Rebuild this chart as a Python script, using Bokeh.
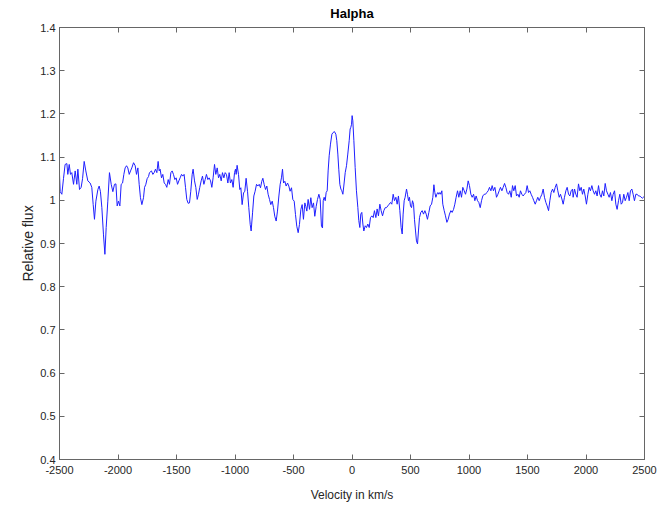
from bokeh.plotting import figure
from bokeh.models import Range1d, LinearAxis, FixedTicker, CustomJSTickFormatter
from bokeh.embed import file_html
from bokeh.resources import INLINE

# ---- data ----
velocity = [
    -2500, -2494, -2480, -2466, -2452, -2437, -2429, -2417, -2406, -2395, -2380, -2366, -2352, -2343,
    -2329, -2315, -2303, -2289, -2275, -2258, -2238, -2224, -2212, -2201, -2189, -2172, -2161, -2150,
    -2138, -2124, -2112, -2101, -2087, -2073, -2058, -2044, -2030, -2018, -2007, -1996, -1984, -1973,
    -1961, -1950, -1939, -1927, -1916, -1904, -1893, -1882, -1867, -1853, -1842, -1830, -1819, -1808,
    -1796, -1782, -1773, -1762, -1751, -1739,
    -1731, -1714, -1702, -1691, -1680, -1668, -1657, -1648, -1640, -1628, -1617, -1605, -1594, -1583,
    -1571, -1560, -1548, -1537, -1526, -1514, -1503, -1491, -1480, -1469, -1457, -1446, -1435, -1423,
    -1412, -1400, -1389, -1378, -1366, -1358, -1346, -1335, -1323, -1312, -1301, -1289, -1278, -1266,
    -1255, -1244, -1232, -1221, -1209, -1198, -1187, -1175, -1164, -1152, -1141, -1130, -1118, -1107,
    -1095, -1084, -1073, -1061, -1050, -1039, -1027, -1016, -1004,
    -996, -990, -982, -970, -959, -950, -939, -927, -916, -905, -893, -882, -870, -862, -850, -839,
    -828, -816, -805, -793, -782, -771, -762, -751, -739, -728, -717, -705, -694, -682, -671, -660,
    -648, -637, -625, -614, -603, -594, -585, -574, -563, -551, -540, -529, -517, -506, -494, -483,
    -472, -460, -449, -437, -426, -415, -403, -395, -386, -375, -363, -352, -341, -329, -318, -306,
    -295, -283, -272, -261, -252,
    -246, -238, -229, -221, -212, -204, -195, -184, -172, -161, -150, -138, -130, -121, -113, -104,
    -95, -87, -78, -70, -58, -47, -36, -24, -16, -10, -4, 1, 7, 16, 27, 38, 50, 58, 67, 75, 84, 93,
    101, 113, 124, 135, 147, 158, 170, 181, 192, 204, 215, 226, 238, 249, 261, 272, 284, 295, 306,
    318, 329, 340, 352, 363, 375, 386, 397, 409, 420, 429, 437, 446, 454, 466,
    474, 483, 491, 500, 509, 517, 526, 534, 543, 551, 560, 568, 577, 588, 600, 611, 623, 634, 645,
    657, 668, 680, 691, 700, 708, 717, 725, 734, 742, 751, 759, 768, 776, 788, 799, 811, 822, 833,
    845, 856, 868, 879, 890, 902, 913, 925, 936, 947, 959, 970, 982, 993, 1004, 1016, 1027, 1039,
    1050, 1061, 1073, 1084, 1096, 1107, 1118, 1130, 1141, 1152, 1164, 1175, 1187, 1198, 1209, 1221,
    1224, 1235, 1247, 1258, 1269, 1281, 1292, 1304, 1315, 1326, 1338, 1349, 1361, 1372, 1383, 1395,
    1406, 1418, 1429, 1440, 1452, 1463, 1474, 1486, 1497, 1509, 1520, 1531, 1543, 1554, 1566, 1577,
    1588, 1600, 1611, 1623, 1634, 1645, 1657, 1668, 1680, 1691, 1702, 1714, 1725, 1737, 1748, 1759,
    1771, 1782, 1794, 1805, 1816, 1828, 1839, 1851, 1862, 1873, 1885,
    1890, 1902, 1913, 1924, 1936, 1947, 1959, 1970, 1981, 1993, 2004, 2016, 2027, 2038, 2050, 2061,
    2073, 2084, 2095, 2107, 2118, 2130, 2141, 2152, 2164, 2175, 2187, 2198, 2209, 2221, 2232, 2244,
    2255, 2266, 2278, 2289, 2301, 2312, 2323, 2335, 2346, 2358, 2369, 2380, 2392, 2403, 2414, 2426,
    2437, 2449, 2460, 2471, 2483, 2494, 2500,
]

flux = [
    1.06, 1.02, 1.014, 1.05, 1.083, 1.085, 1.06, 1.083, 1.06, 1.064, 1.037, 1.068, 1.037, 1.072,
    1.025, 1.03, 1.05, 1.09, 1.068, 1.045, 1.04, 1.03, 0.99, 0.956, 0.998, 1.025, 1.033, 1.02,
    0.983, 0.92, 0.875, 0.937, 0.998, 1.064, 1.037, 1.02, 1.037, 1.038, 0.987, 0.998, 0.987, 1.037,
    1.04, 1.06, 1.075, 1.08, 1.075, 1.06, 1.068, 1.075, 1.087, 1.08, 1.06, 1.075, 1.037, 1.006,
    0.99, 1.006, 1.03, 1.037, 1.05, 1.055,
    1.064, 1.068, 1.06, 1.064, 1.072, 1.064, 1.09, 1.068, 1.072, 1.052, 1.06, 1.04, 1.037, 1.03,
    1.048, 1.037, 1.064, 1.068, 1.06, 1.048, 1.052, 1.037, 1.045, 1.052, 1.06, 1.056, 1.06, 1.03,
    1.002, 0.993, 0.994, 1.021, 1.06, 1.072, 1.045, 1.03, 1.002, 1.014, 1.03, 1.045, 1.056, 1.037,
    1.048, 1.06, 1.048, 1.052, 1.045, 1.03, 1.052, 1.083, 1.06, 1.075, 1.052, 1.06, 1.045, 1.064,
    1.052, 1.064, 1.06, 1.04, 1.064, 1.04, 1.048, 1.03, 1.064,
    1.072, 1.06, 1.081, 1.06, 1.025, 1.029, 0.99, 1.017, 1.021, 1.051, 1.021, 0.983, 0.944, 0.929,
    0.971, 1.01, 1.021, 1.037, 1.033, 1.037, 1.029, 1.044, 1.051, 1.037, 1.025, 1.033, 1.014, 1.002,
    0.99, 0.998, 0.983, 0.963, 0.952, 0.975, 1.01, 1.037, 1.052, 1.072, 1.04, 1.044, 1.033, 1.04,
    1.033, 1.021, 1.029, 1.002, 0.998, 0.967, 0.94, 0.925, 0.944, 0.979, 0.99, 0.956, 0.994, 0.986,
    0.975, 1.002, 0.979, 1.006, 0.983, 0.994, 0.963, 0.986, 1.002, 1.014, 1.002, 0.94, 0.936,
    0.999, 1.007, 0.999, 1.018, 1.022, 1.068, 1.103, 1.130, 1.153, 1.157, 1.159, 1.153, 1.138, 1.107,
    1.072, 1.037, 1.026, 1.022, 1.014, 1.033, 1.064, 1.08, 1.107, 1.138, 1.165, 1.169, 1.176, 1.196,
    1.184, 1.138, 1.076, 1.022, 0.983, 0.953, 0.937, 0.968, 0.972, 0.945, 0.929, 0.941, 0.937, 0.945,
    0.937, 0.960, 0.964, 0.960, 0.976, 0.960, 0.980, 0.964, 0.991, 0.976, 0.964, 0.976, 0.983, 0.983,
    0.987, 0.991, 0.995, 0.991, 1.014, 0.999, 1.007, 0.991, 1.010, 0.976, 0.937, 0.922, 0.968, 0.999,
    1.007, 1.026,
    1.014, 0.999, 1.007, 0.987, 0.983, 0.999, 0.991, 0.956, 0.929, 0.906, 0.899, 0.929, 0.96, 0.972,
    0.976, 0.968, 0.976, 0.968, 0.956, 0.972, 0.987, 0.991, 1.007, 1.036, 1.018, 1.007, 1.014, 1.018,
    1.014, 1.018, 1.014, 1.022, 0.991, 0.976, 0.964, 0.949, 0.956, 0.968, 0.976, 0.972, 0.979, 0.991,
    1.007, 1.022, 1.007, 1.022, 1.007, 1.03, 1.022, 1.014, 1.026, 1.045, 1.034, 1.014, 1.007, 1.014,
    0.999, 1.010, 0.999, 0.995, 0.983, 0.999, 1.010, 1.014, 1.014, 1.018, 1.022, 1.03, 1.022, 1.034,
    1.022, 1.03,
    1.026, 1.007, 1.014, 1.022, 1.03, 1.022, 1.03, 1.039, 1.03, 1.018, 1.014, 1.022, 1.007, 1.034,
    1.022, 1.034, 1.010, 1.014, 1.007, 1.022, 1.014, 1.010, 1.014, 1.018, 1.034, 1.018, 1.022, 1.014,
    1.007, 0.999, 0.991, 0.999, 1.007, 0.999, 1.007, 1.014, 1.026, 1.007, 0.995, 0.987, 0.976, 0.999,
    1.018, 1.026, 1.018, 1.03, 1.038, 1.022, 1.007, 1.014, 1.003, 0.991, 1.007, 1.022, 1.03, 1.014,
    1.010, 1.022, 1.026,
    1.007, 1.026, 1.014, 1.007, 1.038, 1.022, 1.03, 1.014, 1.026, 1.010, 0.991, 1.014, 1.03, 1.022,
    1.034, 1.022, 1.014, 1.022, 1.010, 1.034, 1.014, 1.007, 1.022, 1.010, 1.039, 1.022, 1.014, 1.007,
    1.018, 0.999, 1.014, 1.022, 0.991, 0.979, 0.999, 1.014, 0.991, 0.995, 1.014, 0.999, 1.007, 1.018,
    0.999, 1.022, 1.026, 1.014, 0.999, 1.014, 1.014, 1.010, 1.010, 1.007, 1.005, 1.008, 1.006,
]

x_ticks = [-2500, -2000, -1500, -1000, -500, 0, 500, 1000, 1500, 2000, 2500]
y_ticks = [0.4, 0.5, 0.6, 0.7, 0.8, 0.9, 1.0, 1.1, 1.2, 1.3, 1.4]
title_text = "Halpha"
x_label = "Velocity in km/s"
y_label = "Relative flux"

FONT = "Liberation Sans"
AXIS_COLOR = "#666666"
TEXT_COLOR = "#262626"

p = figure(
    width=668, height=510,
    output_backend="svg", toolbar_location=None,
    x_range=Range1d(-2500, 2500), y_range=Range1d(0.4, 1.4),
    min_border_left=59, min_border_right=24, min_border_top=27, min_border_bottom=51,
    title=title_text,
)
p.title.align = "center"
p.title.vertical_align = "top"
p.title.text_font = FONT
p.title.text_font_size = "13px"
p.title.text_font_style = "bold"
p.title.text_color = "#000000"
p.title.standoff = 10

p.background_fill_color = "white"
p.border_fill_color = "white"
p.outline_line_color = AXIS_COLOR
p.xgrid.visible = False
p.ygrid.visible = False

p.line(velocity, flux, line_color="#1f1fff", line_width=1)

p.add_layout(LinearAxis(), "above")
p.add_layout(LinearAxis(), "right")

fmt_x = CustomJSTickFormatter(code="return tick.toFixed(0);")
fmt_y = CustomJSTickFormatter(code="return tick.toFixed(1).replace(/\\.0$/, '');")
fmt_blank = CustomJSTickFormatter(code="return '';")

for ax in p.xaxis:
    ax.ticker = FixedTicker(ticks=x_ticks)
    ax.formatter = fmt_x
for ax in p.yaxis:
    ax.ticker = FixedTicker(ticks=y_ticks)
    ax.formatter = fmt_y

for ax in p.axis:
    ax.axis_line_color = AXIS_COLOR
    ax.major_tick_line_color = AXIS_COLOR
    ax.major_tick_in = 5
    ax.major_tick_out = 0
    ax.minor_tick_line_color = None
    ax.major_label_text_font = FONT
    ax.major_label_text_font_size = "11px"
    ax.major_label_text_color = TEXT_COLOR
    ax.axis_label_text_font = FONT
    ax.axis_label_text_font_size = "12px"
    ax.axis_label_text_font_style = "normal"
    ax.axis_label_text_color = TEXT_COLOR

# box axes (top/right) carry ticks only
for ax in (p.above[0], p.right[0]):
    ax.formatter = fmt_blank
    ax.major_label_standoff = 0

p.below[0].axis_label = x_label
p.below[0].major_label_standoff = 6
p.below[0].axis_label_standoff = 11
p.left[0].axis_label = y_label
p.left[0].axis_label_text_font_size = "14px"
p.left[0].major_label_standoff = 4
p.left[0].axis_label_standoff = 1

open("out.html", "w").write(file_html(p, INLINE))
